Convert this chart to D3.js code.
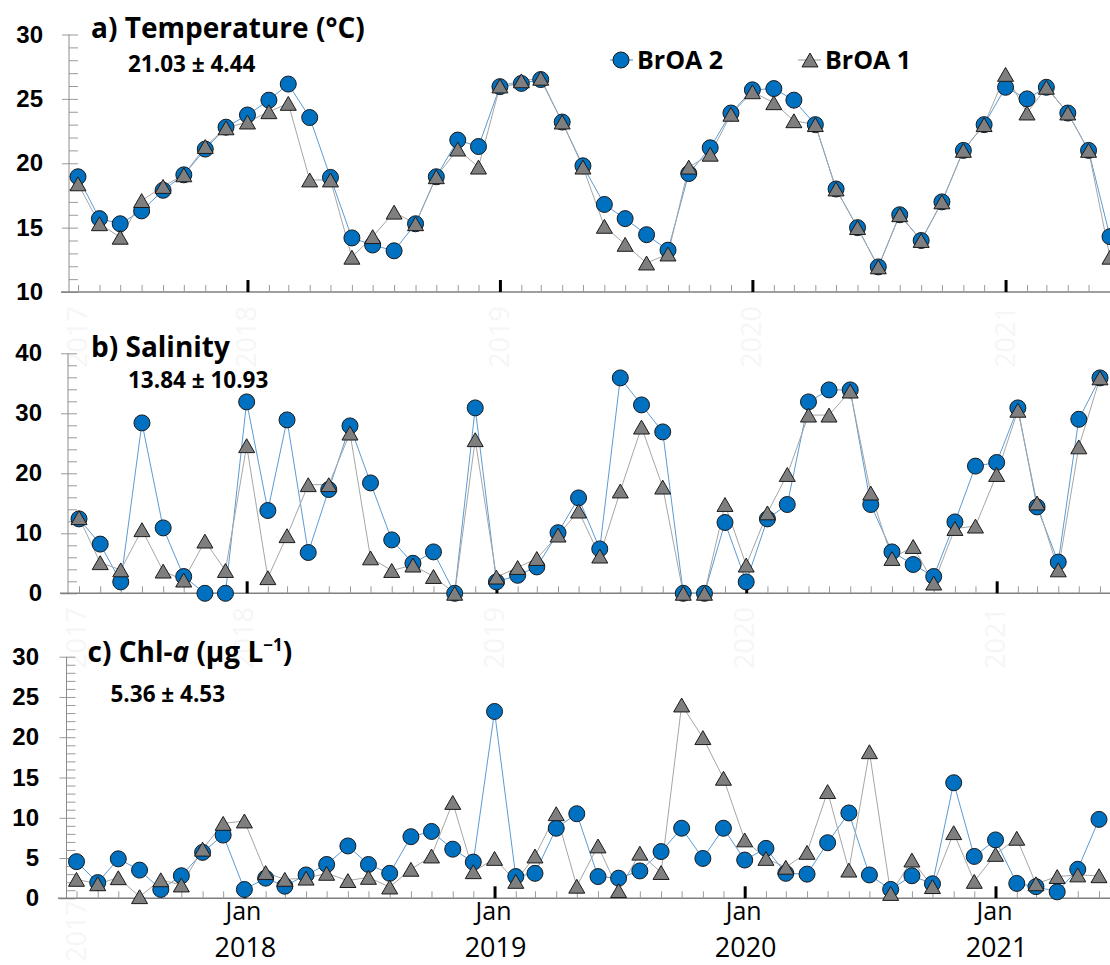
<!DOCTYPE html>
<html lang="en">
<head>
<meta charset="UTF-8">
<title>BrOA 1 / BrOA 2 time series</title>
<script src="https://d3js.org/d3.v7.min.js"></script>
<style>
  body { margin: 0; background: #fff; }
  svg { display: block; font-family: "Open Sans", sans-serif; }
  .line2 { fill: none; stroke: #5b9bd5; stroke-width: 1; }
  .line1 { fill: none; stroke: #a6a6a6; stroke-width: 1; }
  .dot2 { fill: #0070c0; stroke: #1a1a1a; stroke-width: 1; }
  .tri1 { fill: #7f7f7f; stroke: #1a1a1a; stroke-width: 1; }
  .minor line { stroke: #9a9a9a; stroke-width: 1; }
  .major line { stroke: #000; stroke-width: 3; }
  .ylab text { font-size: 24px; font-weight: 700; fill: #000; }
  .ylab line { stroke: #9a9a9a; }
  .title { font-size: 28px; font-weight: 700; }
  .stat { font-size: 22.5px; font-weight: 700; }
  .legend { font-size: 25px; font-weight: 700; }
  .bottom { fill: #000; }
  .ghost { fill: #f6f6f6; font-size: 27px; }
</style>
</head>
<body>
<svg width="1110" height="965"></svg>
<script>
// monthly samples, May 2017 .. Jun 2021
const months = d3.timeMonths(new Date(2017, 4, 1), new Date(2021, 6, 1));

const tempBrOA2 = [18.95, 15.7, 15.3, 16.3, 17.9, 19.1, 21.1, 22.8, 23.75, 24.9, 26.15, 23.55, 18.9, 14.2, 13.65, 13.2, 15.3, 18.95, 21.8, 21.3,
  25.95, 26.2, 26.5, 23.2, 19.8, 16.8, 15.7, 14.45, 13.25, 19.2, 21.2, 23.9, 25.7, 25.8, 24.9, 23.0, 18.0, 15.0, 11.95, 16.0,
  14.0, 17.0, 21.0, 23.0, 25.9, 25.0, 25.9, 23.9, 21.0, 14.3];
const tempBrOA1 = [18.4, 15.3, 14.25, 17.1, 18.2, 19.1, 21.3, 22.75, 23.2, 24.0, 24.65, 18.7, 18.7, 12.7, 14.3, 16.2, 15.3, 18.95, 21.1, 19.7,
  26.0, 26.4, 26.6, 23.2, 19.7, 15.1, 13.7, 12.25, 12.95, 19.7, 20.7, 23.8, 25.55, 24.7, 23.3, 23.0, 18.0, 15.0, 11.95, 16.0,
  14.0, 17.0, 21.0, 23.0, 26.9, 23.9, 25.9, 23.9, 21.0, 12.7];

const salBrOA2 = [12.4, 8.2, 1.9, 28.4, 10.9, 2.8, 0, 0, 31.9, 13.8, 28.9, 6.8, 17.3, 27.9, 18.4, 8.9, 5.0, 6.9, 0, 30.9,
  1.9, 3.0, 4.4, 10.1, 15.9, 7.4, 35.9, 31.4, 26.9, 0, 0, 11.8, 1.9, 12.4, 14.8, 31.9, 33.9, 33.9, 14.8, 6.9,
  4.8, 2.8, 11.9, 21.2, 21.8, 30.9, 14.4, 5.2, 29.0, 35.9];
const salBrOA1 = [12.6, 5.1, 3.9, 10.6, 3.7, 2.2, 8.7, 3.8, 24.6, 2.6, 9.6, 18.1, 18.1, 26.7, 5.9, 3.8, 4.7, 2.8, 0, 25.6,
  2.7, 4.3, 5.8, 9.7, 13.7, 6.2, 17.05, 27.7, 17.7, 0, 0, 14.8, 4.7, 13.4, 19.8, 29.7, 29.7, 33.7, 16.7, 5.8,
  7.8, 1.7, 10.8, 11.2, 19.8, 30.5, 15.05, 3.9, 24.4, 35.9];

const chlBrOA2 = [4.55, 1.95, 4.9, 3.5, 1.1, 2.8, 5.7, 7.85, 1.1, 2.5, 1.5, 2.9, 4.2, 6.5, 4.2, 3.1, 7.65, 8.3, 6.1, 4.5,
  23.2, 2.7, 3.1, 8.7, 10.5, 2.7, 2.5, 3.4, 5.8, 8.7, 4.95, 8.7, 4.75, 6.2, 3.1, 3.0, 6.9, 10.6, 2.9, 1.1,
  2.8, 1.8, 14.35, 5.2, 7.25, 1.85, 1.45, 0.8, 3.6, 9.8];
const chlBrOA1 = [2.35, 1.8, 2.55, 0.2, 2.3, 1.65, 6.1, 9.3, 9.6, 3.2, 2.35, 2.5, 3.1, 2.2, 2.6, 1.4, 3.6, 5.25, 11.9, 3.3,
  4.95, 2.1, 5.25, 10.5, 1.5, 6.5, 0.95, 5.6, 3.2, 24.0, 19.95, 14.9, 7.25, 4.95, 3.85, 5.7, 13.25, 3.5, 18.2, 0.6,
  4.75, 1.45, 8.15, 2.1, 5.45, 7.45, 1.8, 2.7, 2.9, 2.8];

const statLabels = ["21.03 ± 4.44", "13.84 ± 10.93", "5.36 ± 4.53"];
const yearLabels = ["2018", "2019", "2020", "2021"];
const ghostYears = ["2017", "2018", "2019", "2020", "2021"];
const seriesNames = ["BrOA 2", "BrOA 1"];

const svg = d3.select("svg");
const W = 1110;

const panels = [
  { s2: tempBrOA2, s1: tempBrOA1, dom: [10, 30], yr: [292, 34.5], xr: [78, 1110], ax: 69, x0: 61,
    minor: 1, major: 5, labR: 43, tx: 91, ty: 38, sx: 128, sy: 71.5 },
  { s2: salBrOA2, s1: salBrOA1, dom: [0, 40], yr: [593.3, 353.3], xr: [79, 1100], ax: 68, x0: 60,
    minor: 2, major: 10, labR: 42, tx: 91, ty: 356.5, sx: 128, sy: 388 },
  { s2: chlBrOA2, s1: chlBrOA1, dom: [0, 30], yr: [898.3, 656.7], xr: [76.5, 1099], ax: 66.5, x0: 58,
    minor: 1, major: 5, labR: 39, tx: 87.5, ty: 661.5, sx: 110.5, sy: 701.5 }
];

panels.forEach(p => {
  p.x = d3.scaleTime().domain([months[0], months[months.length - 1]]).range(p.xr);
  p.y = d3.scaleLinear().domain(p.dom).range(p.yr);
});

// faint ghost year labels sitting behind the panels
const ghostRows = [
  { panel: panels[0], cy: 337, years: ghostYears },
  { panel: panels[2], cy: 638, years: ghostYears },
  { panel: panels[2], cy: 931, years: ghostYears.slice(0, 1) }
];
ghostRows.forEach(r => {
  r.years.forEach((yr, i) => {
    const gx = i === 0 ? r.panel.x(months[0]) : r.panel.x(new Date(+yr, 0, 1));
    svg.append("text").attr("class", "ghost")
      .attr("transform", `translate(${gx + 9},${r.cy}) rotate(-90)`)
      .attr("text-anchor", "middle")
      .text(yr);
  });
});

panels.forEach((p, k) => {
  const g = svg.append("g");
  const base = p.y(p.dom[0]);

  // y axis: inside ticks (minor + major), outside major ticks with labels
  g.append("g").attr("class", "ylab")
    .attr("transform", `translate(${p.ax},0)`)
    .call(d3.axisRight(p.y).tickValues(d3.range(p.dom[0], p.dom[1] + 0.01, p.minor)).tickSize(9).tickFormat(""))
    .call(a => a.select(".domain").remove());
  g.append("g").attr("class", "ylab")
    .attr("transform", `translate(${p.ax},0)`)
    .call(d3.axisLeft(p.y).tickValues(d3.range(p.dom[0], p.dom[1] + 0.01, p.major))
      .tickSize(7).tickPadding(p.ax - 7 - p.labR).tickFormat(d3.format("d")))
    .call(a => a.select(".domain").remove());
  g.append("line").attr("x1", p.ax).attr("x2", p.ax).attr("y1", p.y(p.dom[1])).attr("y2", base)
    .attr("stroke", "#8c8c8c");

  // x axis
  g.append("line").attr("x1", p.x0).attr("x2", W).attr("y1", base).attr("y2", base)
    .attr("stroke", "#7f7f7f").attr("stroke-width", 1.5);
  g.append("g").attr("class", "minor")
    .attr("transform", `translate(0,${base})`)
    .call(d3.axisBottom(p.x).ticks(d3.timeMonth.every(1)).tickSize(-7).tickFormat(""))
    .call(a => a.select(".domain").remove());
  g.append("g").attr("class", "major")
    .attr("transform", `translate(0,${base})`)
    .call(d3.axisBottom(p.x).ticks(d3.timeYear.every(1)).tickSize(-12).tickFormat(""))
    .call(a => a.select(".domain").remove());

  // series
  const line = vals => d3.line().x((d, i) => p.x(months[i])).y(d => p.y(d))(vals);
  g.append("path").attr("class", "line2").attr("d", line(p.s2));
  g.append("path").attr("class", "line1").attr("d", line(p.s1));
  g.selectAll("circle.dot2").data(p.s2).join("circle").attr("class", "dot2")
    .attr("cx", (d, i) => p.x(months[i])).attr("cy", d => p.y(d)).attr("r", 8);
  g.selectAll("path.tri1").data(p.s1).join("path").attr("class", "tri1")
    .attr("d", d3.symbol(d3.symbolTriangle, 111))
    .attr("transform", (d, i) => `translate(${p.x(months[i])},${p.y(d) + 2.3})`);

  // titles
  const t = g.append("text").attr("class", "title").attr("x", p.tx).attr("y", p.ty);
  if (k === 0) t.text("a) Temperature (°C)");
  if (k === 1) t.text("b) Salinity");
  if (k === 2) {
    t.append("tspan").text("c) Chl-");
    t.append("tspan").attr("font-style", "italic").text("a");
    t.append("tspan").text(" (μg L");
    t.append("tspan").attr("font-size", "17px").attr("dy", -11).text("−1");
    t.append("tspan").attr("dy", 11).text(")");
  }
  g.append("text").attr("class", "stat").attr("x", p.sx).attr("y", p.sy).text(statLabels[k]);
});

// legend
const lg = svg.append("g");
lg.append("line").attr("x1", 610).attr("x2", 633).attr("y1", 60).attr("y2", 60).attr("stroke", "#9dc3e6").attr("stroke-width", 2);
lg.append("circle").attr("class", "dot2").attr("cx", 621).attr("cy", 60).attr("r", 8);
lg.append("text").attr("class", "legend").attr("x", 637).attr("y", 69).text(seriesNames[0]);
lg.append("line").attr("x1", 798).attr("x2", 821).attr("y1", 60).attr("y2", 60).attr("stroke", "#c9c9c9").attr("stroke-width", 2);
lg.append("path").attr("class", "tri1").attr("d", d3.symbol(d3.symbolTriangle, 111))
  .attr("transform", "translate(810,62.3)");
lg.append("text").attr("class", "legend").attr("x", 825).attr("y", 69).text(seriesNames[1]);

// bottom month / year labels from the lowest panel's scale
const pc = panels[2];
yearLabels.forEach(yr => {
  const jx = pc.x(new Date(+yr, 0, 1));
  svg.append("text").attr("class", "bottom").attr("x", jx - 1).attr("y", 920)
    .attr("text-anchor", "middle").attr("font-size", 25).text("Jan");
  svg.append("text").attr("class", "bottom").attr("x", jx + 1).attr("y", 957)
    .attr("text-anchor", "middle").attr("font-size", 27).text(yr);
});
</script>
</body>
</html>
